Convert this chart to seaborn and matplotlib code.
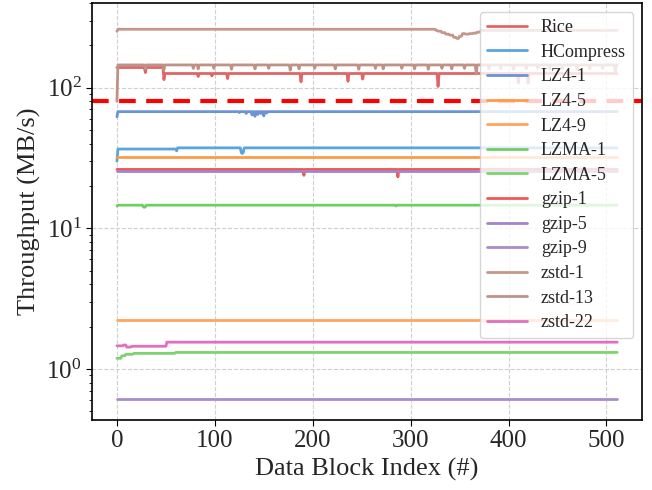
import numpy as np
import matplotlib
matplotlib.use("Agg")
import matplotlib.pyplot as plt
import seaborn as sns

# block index on the x axis
n_blocks = 512

methods = ["Rice", "HCompress", "LZ4-1", "LZ4-5", "LZ4-9", "LZMA-1", "LZMA-5",
           "gzip-1", "gzip-5", "gzip-9", "zstd-1", "zstd-13", "zstd-22"]
colors = ["#e06666", "#5aa5e0", "#6b93d6", "#ff9b45", "#ffa65c", "#6fcf63", "#7dd46f",
          "#f25757", "#a384c9", "#a88dcb", "#c4978d", "#c09285", "#e06fc0"]

# throughput levels (MB/s): (first block, value) runs
rice_steps = [(0, 139), (48, 126)]
hcompress_steps = [(0, 30.0), (1, 36.6), (61, 37.3)]
lz4_1_steps = [(0, 62.0), (1, 67.5)]
lz4_5_steps = [(0, 32.2)]
lz4_9_steps = [(0, 2.24)]
lzma_1_steps = [(0, 14.4), (1, 14.6)]
lzma_5_steps = [(0, 1.19), (5, 1.24), (9, 1.27), (17, 1.29), (60, 1.31)]
gzip_1_steps = [(0, 26.2)]
gzip_5_steps = [(0, 25.4)]
gzip_9_steps = [(0, 0.61)]
zstd_1_steps = [(0, 251), (1, 260), (326, 255), (328, 252), (332, 246), (336, 240),
                (340, 236), (344, 228), (347, 224), (350, 232), (353, 242), (356, 240),
                (360, 242), (364, 244), (368, 248), (372, 255)]
zstd_13_steps = [(0, 80), (1, 145)]
zstd_22_steps = [(0, 1.46), (7, 1.48), (10, 1.43), (15, 1.45), (51, 1.55)]

# short dips (block: value)
rice_dips = {29: 128, 48: 114, 83: 120, 97: 121, 113: 116, 188: 110, 236: 111,
             251: 115, 328: 102, 410: 108, 420: 108}
hcompress_dips = {61: 35.5, 127: 34.5, 128: 34.0, 129: 34.5}
lz4_1_dips = {125: 66.5, 132: 65.5, 138: 64.0, 141: 62.5, 144: 64.5, 147: 65.5,
              150: 63.0, 153: 66.0}
lzma_1_dips = {27: 14.2, 28: 14.1, 29: 14.2, 285: 14.4}
gzip_1_dips = {191: 23.8, 287: 23.2}
zstd_13_dips = {29: 136, 48: 134, 78: 137, 83: 136, 99: 137, 117: 135, 141: 136,
                155: 137, 177: 133, 186: 136, 202: 137, 223: 136, 247: 135, 264: 137,
                272: 136, 291: 137, 304: 136, 318: 135, 332: 137, 342: 136, 355: 137,
                367: 125, 380: 136, 392: 137, 405: 135, 418: 136, 430: 137, 442: 136,
                455: 137, 470: 135, 483: 136, 496: 137, 509: 130}

threshold = 80

steps = [rice_steps, hcompress_steps, lz4_1_steps, lz4_5_steps, lz4_9_steps,
         lzma_1_steps, lzma_5_steps, gzip_1_steps, gzip_5_steps, gzip_9_steps,
         zstd_1_steps, zstd_13_steps, zstd_22_steps]
dips = [rice_dips, hcompress_dips, lz4_1_dips, {}, {}, lzma_1_dips, {},
        gzip_1_dips, {}, {}, {}, zstd_13_dips, {}]


def build(run, spikes):
    vals = np.zeros(n_blocks)
    for i, (start, v) in enumerate(run):
        end = run[i + 1][0] if i + 1 < len(run) else n_blocks
        vals[start:end] = v
    for k, v in spikes.items():
        vals[k] = v
    return vals


sns.set_style("whitegrid", {"grid.linestyle": "--", "axes.edgecolor": "black",
                            "grid.color": "#d0d0d0"})
plt.rcParams["font.family"] = ["Liberation Serif", "DejaVu Serif"]
plt.rcParams["mathtext.fontset"] = "stix"

fig, ax = plt.subplots(figsize=(6.52, 4.9), dpi=100)
fig.subplots_adjust(left=0.141, right=0.985, top=0.994, bottom=0.143)

blocks = np.arange(n_blocks)
for name, c, run, spikes in zip(methods, colors, steps, dips):
    sns.lineplot(x=blocks, y=build(run, spikes), color=c, lw=2, label=name, ax=ax)

ax.axhline(threshold, color="red", ls=(0, (4, 2.5)), lw=3)

ax.set_yscale("log")
ax.set_ylim(0.434, 400)
ax.set_xlim(-25.55, 536.55)
ax.set_xlabel("Data Block Index (#)", fontsize=19)
ax.set_ylabel("Throughput (MB/s)", fontsize=19)
ax.tick_params(axis="both", which="major", labelsize=18, left=True, bottom=True,
               length=4, color="black")
ax.tick_params(axis="y", which="minor", left=True, length=2.5, color="black")
ax.grid(True, which="major", lw=0.8)
ax.grid(False, which="minor")
for s in ax.spines.values():
    s.set_linewidth(1.2)

ax.legend(loc="upper right", fontsize=13, labelspacing=0.42, framealpha=0.8,
          borderpad=0.4, handlelength=2.2)

fig.savefig("out.png", dpi=100)
